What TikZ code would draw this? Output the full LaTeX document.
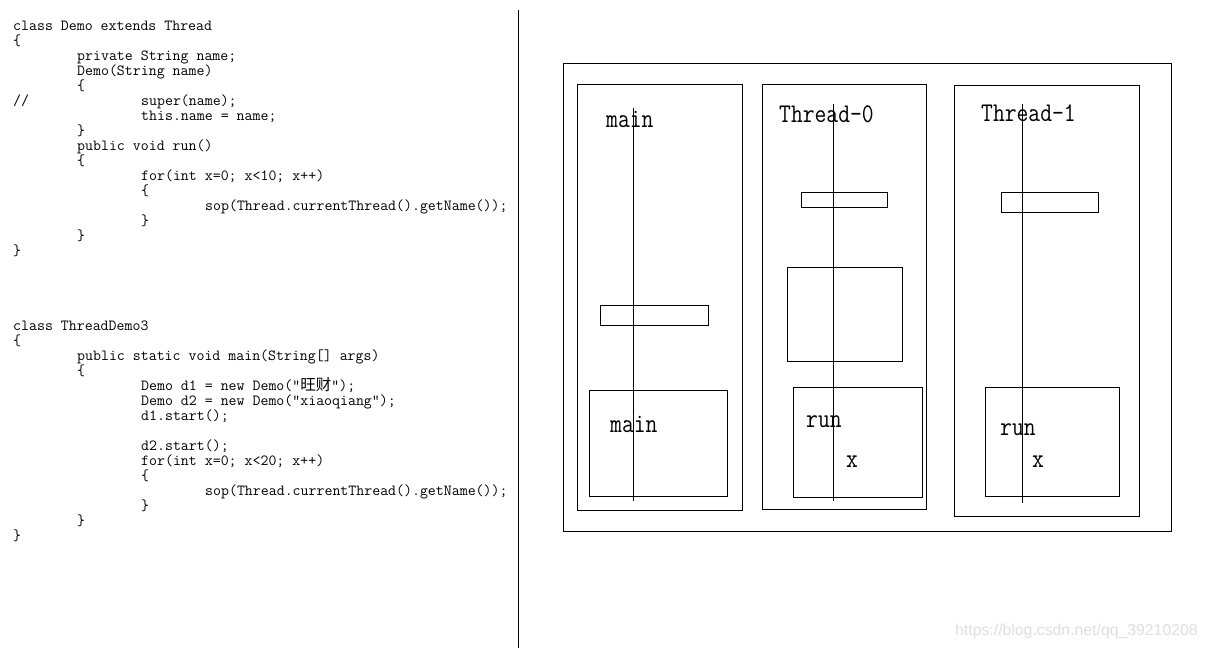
\documentclass[tikz,border=0pt]{standalone}
\usepackage{fontspec}
\setsansfont{Liberation Sans}
\newfontfamily\codefont{Latin Modern Mono}
\newfontfamily\lblfont{Latin Modern Mono}[FakeStretch=0.85]
\newfontfamily\cjk{Noto Sans CJK SC}
\tikzset{
  code/.style={anchor=base west, inner sep=0pt, font=\codefont\fontsize{15.45}{15}\selectfont},
  lbl/.style={anchor=base west, inner sep=0pt, font=\lblfont\fontsize{27}{27}\selectfont},
  box/.style={draw, line width=1pt},
  life/.style={line width=1pt},
  mark text/.style={anchor=base west, inner sep=0pt, text=black!13, font=\sffamily\fontsize{15.8}{16}\selectfont}
}
\begin{document}
\begin{tikzpicture}[x=1pt,y=-1pt]
\useasboundingbox (0,0) rectangle (1207,648);
% ---- code block 1
\node[code] (a1)  at (13,30.5)  {class Demo extends Thread};
\node[code] (a2)  at (13,45.5)  {\{};
\node[code] (a3)  at (77,60.5)  {private String name;};
\node[code] (a4)  at (77,75.5)  {Demo(String name)};
\node[code] (a5)  at (77,90.5)  {\{};
\node[code] (a6a) at (13,105.5) {//};
\node[code] (a6b) at (141,105.5) {super(name);};
\node[code] (a7)  at (141,120.5) {this.name = name;};
\node[code] (a8)  at (77,135.5) {\}};
\node[code] (a9)  at (77,150.5) {public void run()};
\node[code] (a10) at (77,165.5) {\{};
\node[code] (a11) at (141,180.5) {for(int x=0; x<10; x++)};
\node[code] (a12) at (141,195.5) {\{};
\node[code] (a13) at (205,210.5) {sop(Thread.currentThread().getName());};
\node[code] (a14) at (141,225.5) {\}};
\node[code] (a15) at (77,240.5) {\}};
\node[code] (a16) at (13,255.5) {\}};
% ---- code block 2
\node[code] (b1)  at (13,330.5)  {class ThreadDemo3};
\node[code] (b2)  at (13,345.5)  {\{};
\node[code] (b3)  at (77,360.5)  {public static void main(String[] args)};
\node[code] (b4)  at (77,375.5)  {\{};
\node[code] (b5)  at (141,390.5) {Demo d1 = new Demo(”{\cjk\fontsize{15.5}{15}\selectfont 旺财}”);};
\node[code] (b6)  at (141,405.5) {Demo d2 = new Demo(”xiaoqiang”);};
\node[code] (b7)  at (141,420.5) {d1.start();};
\node[code] (b9)  at (141,450.5) {d2.start();};
\node[code] (b10) at (141,465.5) {for(int x=0; x<20; x++)};
\node[code] (b11) at (141,480.5) {\{};
\node[code] (b12) at (205,495.5) {sop(Thread.currentThread().getName());};
\node[code] (b13) at (141,510.5) {\}};
\node[code] (b14) at (77,525.5) {\}};
\node[code] (b15) at (13,540.5) {\}};
% ---- divider
\draw[life] (518,10) -- (518,648);
% ---- memory diagram
\draw[box] (563,63) rectangle (1171,531);
% main stack
\draw[box] (577,84) rectangle (742,510);
\draw[box] (600,305) rectangle (708,325);
\draw[box] (589,390) rectangle (727,496);
\node[lbl] (mainT) at (606,127) {main};
\node[lbl] (mainF) at (610,432) {main};
\draw[life] (633,108) -- (633,501);
% Thread-0
\draw[box] (762,84) rectangle (926,509);
\draw[box] (801,192) rectangle (887,207);
\draw[box] (787,267) rectangle (902,361);
\draw[box] (793,387) rectangle (922,497);
\node[lbl] (t0) at (779,122) {Thread-0};
\node[lbl] (t0run) at (806,427) {run};
\node[lbl] (t0x) at (846,467) {x};
\draw[life] (833,104) -- (833,501);
% Thread-1
\draw[box] (954,85) rectangle (1139,516);
\draw[box] (1001,192) rectangle (1098,212);
\draw[box] (985,387) rectangle (1119,496);
\node[lbl] (t1) at (981,121) {Thread-1};
\node[lbl] (t1run) at (1000,435) {run};
\node[lbl] (t1x) at (1032,467) {x};
\draw[life] (1022,104) -- (1022,503);
% watermark
\node[mark text] (wm) at (955,635) {https://blog.csdn.net/qq\_39210208};
\end{tikzpicture}
\end{document}
